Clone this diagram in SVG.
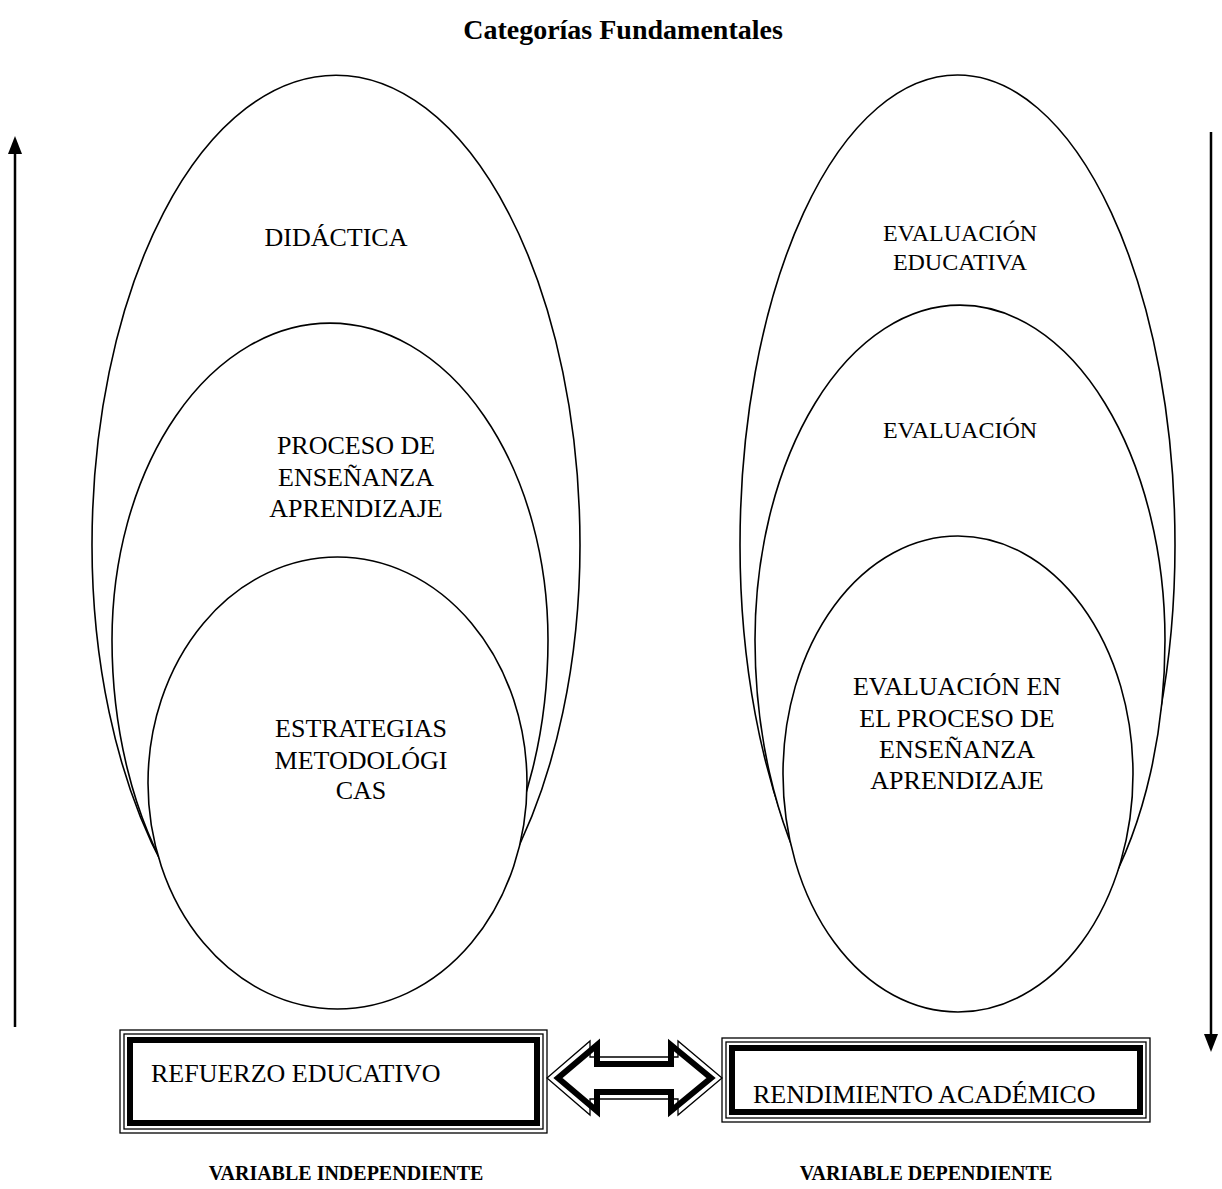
<svg xmlns="http://www.w3.org/2000/svg" width="1222" height="1189" viewBox="0 0 1222 1189">
  <style>
    .bg { fill: #ffffff; }
    .shape { fill: #ffffff; stroke: #000000; stroke-width: 1.6; }
    .lbl { font-family: "Liberation Serif", "Times New Roman", serif; font-size: 26px; fill: #000000; text-anchor: middle; }
    .lbl-sm { font-size: 24px; }
    .boxtext { font-family: "Liberation Serif", "Times New Roman", serif; font-size: 26px; fill: #000000; }
    .title { font-family: "Liberation Serif", "Times New Roman", serif; font-size: 28px; font-weight: bold; fill: #000000; text-anchor: middle; }
    .var { font-family: "Liberation Serif", "Times New Roman", serif; font-size: 20px; font-weight: bold; fill: #000000; text-anchor: middle; }
    .thin { fill: none; stroke: #000000; stroke-width: 1.3; }
    .thick { fill: none; stroke: #000000; stroke-width: 6; }
    .axis { stroke: #000000; stroke-width: 2.5; fill: none; }
  </style>

  <rect class="bg" x="0" y="0" width="1222" height="1189"/>

  <text class="title" x="623" y="39">Categorías Fundamentales</text>

  <!-- vertical direction arrows -->
  <g id="connectors">
    <line class="axis" x1="15" y1="1027" x2="15" y2="150"/>
    <polygon points="15,136 8,154 22,154" fill="#000000"/>
    <line class="axis" x1="1211" y1="132" x2="1211" y2="1036"/>
    <polygon points="1211,1052 1204,1034 1218,1034" fill="#000000"/>

    <!-- block double arrow between the two variables -->
    <g id="double-arrow">
      <polygon class="thin" fill="#ffffff" points="547,1078 590,1041 590,1057 678,1057 678,1041 722,1078 678,1115 678,1099 590,1099 590,1115"/>
      <polygon class="thick" fill="#ffffff" points="558,1078 597,1045 597,1064 671,1064 671,1045 711,1078 671,1111 671,1092 597,1092 597,1111"/>
    </g>
  </g>

  <!-- independent variable nesting -->
  <g id="didactica">
    <path class="shape" d="M92,545 A244,470 0 0 1 580,545 A244,455 0 0 1 92,545 Z"/>
    <text class="lbl" x="336" y="246">DIDÁCTICA</text>
  </g>
  <g id="proceso-ensenanza">
    <path class="shape" d="M112,640 A218,317 0 0 1 548,640 A218,350 0 0 1 112,640 Z"/>
    <text class="lbl" x="356" y="454">PROCESO DE</text>
    <text class="lbl" x="356" y="486">ENSEÑANZA</text>
    <text class="lbl" x="356" y="517">APRENDIZAJE</text>
  </g>
  <g id="estrategias">
    <ellipse class="shape" cx="337.5" cy="783" rx="189.5" ry="226"/>
    <text class="lbl" x="361" y="737">ESTRATEGIAS</text>
    <text class="lbl" x="361" y="769">METODOLÓGI</text>
    <text class="lbl" x="361" y="799">CAS</text>
  </g>

  <!-- dependent variable nesting -->
  <g id="evaluacion-educativa">
    <path class="shape" d="M740,545 A217.5,470 0 0 1 1175,545 A217.5,460 0 0 1 740,545 Z"/>
    <text class="lbl lbl-sm" x="960" y="241">EVALUACIÓN</text>
    <text class="lbl lbl-sm" x="960" y="270">EDUCATIVA</text>
  </g>
  <g id="evaluacion">
    <path class="shape" d="M755,640 A205,335 0 0 1 1165,640 A205,360 0 0 1 755,640 Z"/>
    <text class="lbl lbl-sm" x="960" y="438">EVALUACIÓN</text>
  </g>
  <g id="evaluacion-proceso">
    <ellipse class="shape" cx="958" cy="774" rx="175" ry="238"/>
    <text class="lbl" x="957" y="695">EVALUACIÓN EN</text>
    <text class="lbl" x="957" y="727">EL PROCESO DE</text>
    <text class="lbl" x="957" y="758">ENSEÑANZA</text>
    <text class="lbl" x="957" y="789">APRENDIZAJE</text>
  </g>

  <!-- variable boxes with triple border -->
  <g id="refuerzo-educativo">
    <rect class="thin" x="120" y="1030" width="427" height="103"/>
    <rect class="thin" x="124" y="1034" width="419" height="95"/>
    <rect class="thick" x="130" y="1040" width="407" height="83"/>
    <text class="boxtext" x="151" y="1082">REFUERZO EDUCATIVO</text>
  </g>
  <g id="rendimiento-academico">
    <rect class="thin" x="722" y="1038" width="428" height="84"/>
    <rect class="thin" x="726" y="1042" width="420" height="76"/>
    <rect class="thick" x="732" y="1048" width="408" height="64"/>
    <text class="boxtext" x="753" y="1103">RENDIMIENTO ACADÉMICO</text>
  </g>

  <text class="var" x="346" y="1180">VARIABLE INDEPENDIENTE</text>
  <text class="var" x="926" y="1180">VARIABLE DEPENDIENTE</text>
</svg>
